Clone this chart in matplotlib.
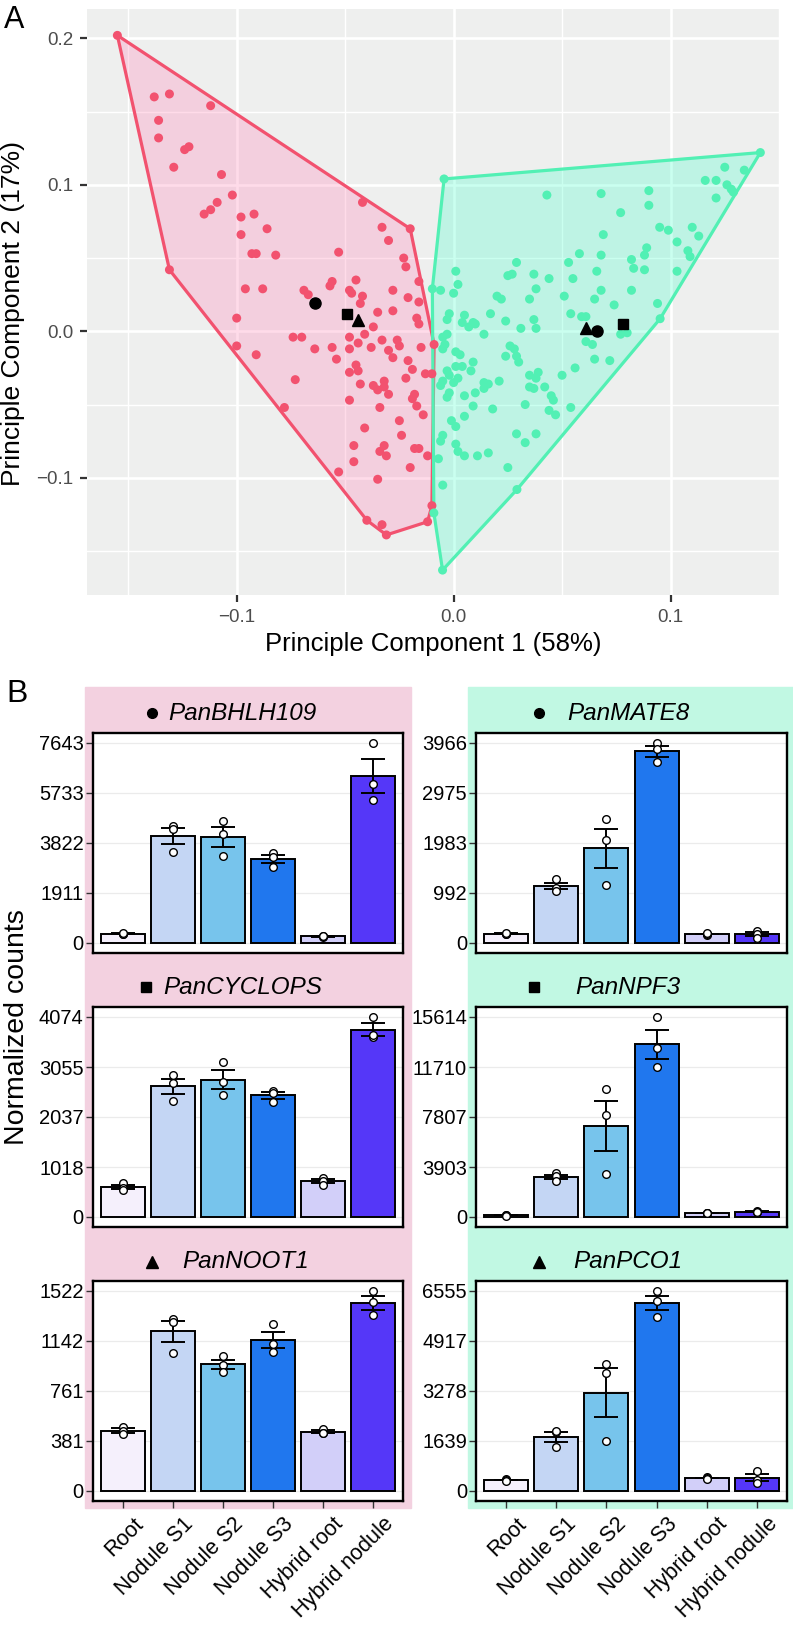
import numpy as np
import matplotlib
matplotlib.use("Agg")
import matplotlib.pyplot as plt
from matplotlib.patches import Rectangle, Polygon
from matplotlib.lines import Line2D
import matplotlib.transforms as mtransforms

plt.rcParams['font.family'] = ['Liberation Sans', 'DejaVu Sans']

# ---------------- panel A : PCA scores ----------------
red_pc1 = [-0.155, -0.138, -0.131, -0.136, -0.136, -0.112, -0.124, -0.122, -0.129, -0.107,
           -0.102, -0.109, -0.112, -0.115, -0.098, -0.092, -0.086, -0.098, -0.093, -0.091,
           -0.082, -0.042, -0.033, -0.030, -0.020, -0.053, -0.023, -0.022, -0.016, -0.131,
           -0.096, -0.088, -0.069, -0.067, -0.057, -0.056, -0.048, -0.047, -0.045, -0.028,
           -0.021, -0.016, -0.028, -0.035, -0.042, -0.043, -0.017, -0.016, -0.037, -0.100,
           -0.074, -0.070, -0.048, -0.041, -0.044, -0.033, -0.026, -0.025, -0.009, -0.015,
           -0.100, -0.064, -0.056, -0.054, -0.048, -0.038, -0.030, -0.028, -0.091, -0.045,
           -0.044, -0.048, -0.021, -0.019, -0.013, -0.010, -0.022, -0.073, -0.043, -0.037,
           -0.035, -0.032, -0.032, -0.030, -0.048, -0.018, -0.019, -0.017, -0.078, -0.034,
           -0.014, -0.025, -0.041, -0.024, -0.046, -0.032, -0.034, -0.031, -0.018, -0.016,
           -0.012, -0.046, -0.020, -0.053, -0.035, -0.040, -0.033, -0.031, -0.012, -0.010]
red_pc2 = [0.202, 0.160, 0.162, 0.144, 0.132, 0.154, 0.124, 0.126, 0.112, 0.107,
           0.093, 0.088, 0.083, 0.080, 0.078, 0.080, 0.070, 0.066, 0.053, 0.053,
           0.052, 0.088, 0.071, 0.062, 0.070, 0.054, 0.050, 0.044, 0.034, 0.042,
           0.029, 0.029, 0.028, 0.025, 0.031, 0.034, 0.028, 0.026, 0.035, 0.028,
           0.023, 0.020, 0.014, 0.013, 0.024, 0.019, 0.009, 0.005, 0.003, 0.009,
           -0.004, -0.004, -0.004, -0.002, -0.008, -0.006, -0.006, -0.010, -0.009, -0.011,
           -0.010, -0.012, -0.011, -0.019, -0.012, -0.011, -0.013, -0.018, -0.016, -0.023,
           -0.027, -0.028, -0.020, -0.026, -0.029, -0.029, -0.032, -0.033, -0.036, -0.037,
           -0.040, -0.034, -0.038, -0.043, -0.047, -0.043, -0.046, -0.051, -0.052, -0.052,
           -0.057, -0.061, -0.066, -0.071, -0.078, -0.078, -0.082, -0.085, -0.080, -0.080,
           -0.085, -0.089, -0.093, -0.096, -0.101, -0.129, -0.132, -0.139, -0.130, -0.119]

green_pc1 = [-0.0044, 0.1414, 0.0952, 0.0292, -0.0051, -0.0091, -0.0098, 0.043, 0.068, 0.077,
             0.069, 0.090, 0.090, 0.116, 0.121, 0.125, 0.134, 0.126, 0.128, 0.129,
             0.121, 0.095, 0.099, 0.110, 0.113, 0.103, 0.108, 0.109, 0.103, 0.089,
             0.088, 0.082, 0.083, 0.088, 0.068, 0.058, 0.053, 0.066, 0.055, 0.051,
             0.044, 0.037, 0.038, 0.035, 0.029, 0.025, 0.027, 0.068, 0.065, 0.074,
             0.082, 0.094, 0.054, 0.059, 0.061, 0.061, 0.064, 0.065, 0.072, 0.077,
             0.080, 0.056, 0.050, 0.045, 0.046, 0.054, 0.044, 0.047, 0.039, 0.038,
             0.035, 0.035, 0.037, 0.042, 0.033, 0.038, 0.033, 0.029, 0.025, 0.038,
             0.031, 0.037, 0.017, 0.022, 0.020, 0.024, 0.026, 0.028, 0.024, 0.029,
             0.030, 0.014, 0.016, 0.014, 0.021, 0.010, 0.005, 0.009, 0.018, 0.005,
             -0.001, 0.001, 0.001, 0.002, 0.005, 0.011, 0.016, -0.005, -0.006, -0.007,
             -0.005, -0.002, -0.003, 0.002, 0.004, -0.003, -0.002, -0.005, -0.006, 0.000,
             -0.004, -0.005, 0.001, 0.003, 0.001, 0.009, 0.008, -0.003, -0.005, 0.005,
             0.004, 0.007, 0.009, 0.010, 0.014, -0.002, -0.003, 0.000, 0.002, 0.001, -0.006]
green_pc2 = [0.104, 0.122, 0.0086, -0.108, -0.163, -0.124, 0.029, 0.093, 0.094, 0.081,
             0.066, 0.096, 0.086, 0.103, 0.103, 0.112, 0.110, 0.100, 0.097, 0.095,
             0.091, 0.071, 0.069, 0.071, 0.065, 0.061, 0.055, 0.051, 0.041, 0.057,
             0.052, 0.049, 0.043, 0.042, 0.052, 0.053, 0.047, 0.041, 0.036, 0.024,
             0.036, 0.039, 0.029, 0.022, 0.047, 0.038, 0.039, 0.028, 0.022, 0.018,
             0.028, 0.019, 0.012, 0.010, 0.010, -0.007, -0.009, -0.019, -0.020, -0.002,
             -0.001, -0.025, -0.030, -0.044, -0.047, -0.052, -0.054, -0.057, -0.028, -0.032,
             -0.030, -0.038, -0.039, -0.038, -0.050, -0.070, -0.076, -0.070, -0.093, 0.002,
             0.002, 0.008, 0.012, 0.022, 0.024, 0.007, -0.010, -0.012, -0.017, -0.017,
             -0.021, -0.035, -0.036, -0.039, -0.034, -0.042, -0.044, -0.051, -0.053, -0.058,
             -0.061, -0.065, -0.077, -0.082, -0.085, -0.085, -0.083, -0.071, -0.075, -0.087,
             -0.105, -0.042, -0.045, -0.032, -0.024, -0.027, -0.030, -0.034, -0.037, -0.035,
             -0.009, -0.012, -0.014, -0.016, -0.024, -0.021, -0.027, -0.002, -0.004, 0.011,
             0.006, 0.003, 0.006, 0.005, -0.002, 0.012, 0.008, 0.026, 0.032, 0.041, 0.028]

# highlighted genes (black symbols) in each cluster
hl_markers = ['o', 's', '^', 'o', 's', '^']
hl_pc1 = [-0.064, -0.049, -0.044, 0.066, 0.078, 0.061]
hl_pc2 = [0.019, 0.012, 0.008, 0.000, 0.005, 0.002]

# ---------------- panel B : normalized counts ----------------
categories = ['Root', 'Nodule S1', 'Nodule S2', 'Nodule S3', 'Hybrid root', 'Hybrid nodule']
bar_colors = ['#F5F0FC', '#C4D6F4', '#77C4EC', '#2077EE', '#D2CFF9', '#5537F8']

genes = ['PanBHLH109', 'PanCYCLOPS', 'PanNOOT1', 'PanMATE8', 'PanNPF3', 'PanPCO1']
gene_markers = ['o', 's', '^', 'o', 's', '^']

reps_bhlh109 = [[330, 356, 382], [4470, 4350, 3464], [4648, 4151, 3337],
                [3450, 3300, 2900], [240, 255, 270], [7643, 6062, 5463]]
reps_cyclops = [[699, 585, 550], [2892, 2736, 2363], [3157, 2750, 2485],
                [2573, 2519, 2349], [790, 740, 650], [4074, 3660, 3700]]
reps_noot1 = [[489, 457, 431], [1309, 1283, 1053], [1027, 957, 908],
              [1271, 1119, 1058], [470, 445, 439], [1522, 1436, 1339]]
reps_mate8 = [[170, 185, 200], [1263, 1090, 1037], [2453, 2042, 1144],
              [3966, 3847, 3595], [165, 178, 191], [238, 175, 105]]
reps_npf3 = [[156, 120, 115], [3409, 3200, 2836], [9970, 7963, 3333],
             [15614, 13170, 11687], [338, 300, 298], [468, 400, 380]]
reps_pco1 = [[380, 361, 342], [1923, 1967, 1453], [4163, 3879, 1639],
             [6555, 6217, 5714], [445, 426, 407], [666, 372, 273]]
gene_reps = [reps_bhlh109, reps_cyclops, reps_noot1, reps_mate8, reps_npf3, reps_pco1]

yticks_bhlh109 = ['0', '1911', '3822', '5733', '7643']
yticks_cyclops = ['0', '1018', '2037', '3055', '4074']
yticks_noot1 = ['0', '381', '761', '1142', '1522']
yticks_mate8 = ['0', '992', '1983', '2975', '3966']
yticks_npf3 = ['0', '3903', '7807', '11710', '15614']
yticks_pco1 = ['0', '1639', '3278', '4917', '6555']
gene_yticks = [yticks_bhlh109, yticks_cyclops, yticks_noot1, yticks_mate8, yticks_npf3, yticks_pco1]


def convex_hull(xs, ys):
    pts = sorted(set(zip(xs, ys)))

    def cross(o, a, b):
        return (a[0] - o[0]) * (b[1] - o[1]) - (a[1] - o[1]) * (b[0] - o[0])

    lower = []
    for p in pts:
        while len(lower) >= 2 and cross(lower[-2], lower[-1], p) <= 0:
            lower.pop()
        lower.append(p)
    upper = []
    for p in reversed(pts):
        while len(upper) >= 2 and cross(upper[-2], upper[-1], p) <= 0:
            upper.pop()
        upper.append(p)
    return lower[:-1] + upper[:-1]


W, H = 793, 1629
fig = plt.figure(figsize=(W / 100, H / 100), dpi=100)


def fbox(x0, y0, x1, y1):
    # pixel box (top-left origin) -> figure fraction
    return [x0 / W, 1 - y1 / H, (x1 - x0) / W, (y1 - y0) / H]


# ---------- A ----------
ax = fig.add_axes(fbox(87, 9, 779, 595))
ax.set_facecolor('#EEEFEE')
for s in ax.spines.values():
    s.set_visible(False)
ax.set_xlim(-0.169, 0.150)
ax.set_ylim(-0.180, 0.220)
ax.set_xticks([-0.1, 0.0, 0.1])
ax.set_xticklabels(['\u22120.1', '0.0', '0.1'])
ax.set_yticks([-0.1, 0.0, 0.1, 0.2])
ax.set_yticklabels(['\u22120.1', '0.0', '0.1', '0.2'])
ax.set_xticks([-0.15, -0.05, 0.05, 0.15], minor=True)
ax.set_yticks([-0.15, -0.05, 0.05, 0.15], minor=True)
ax.grid(which='major', color='white', lw=1.9)
ax.grid(which='minor', color='white', lw=1.0)
ax.set_axisbelow(True)
ax.tick_params(which='major', length=5, width=1.6, color='#333333',
               labelsize=13.5, labelcolor='#4D4D4D', pad=5)
ax.tick_params(which='minor', length=0)

groups = [(red_pc1, red_pc2, '#F2526F', '#FF88B9'),
          (green_pc1, green_pc2, '#52F0B4', '#51FFCD')]
for xs, ys, lc, fc in groups:
    h = convex_hull(xs, ys)
    ax.add_patch(Polygon(h, closed=True, facecolor=fc, alpha=0.3, edgecolor='none', zorder=1))
    ax.add_patch(Polygon(h, closed=True, fill=False, edgecolor=lc, lw=2.3, zorder=2))
    ax.scatter(xs, ys, s=42, color=lc, edgecolors='none', zorder=3)
for m, x, y in zip(hl_markers, hl_pc1, hl_pc2):
    ax.plot(x, y, marker=m, color='black', ms=8 if m != 's' else 7.5, ls='none', zorder=4)

fig.text(433 / W, 1 - 644 / H, 'Principle Component 1 (58%)', fontsize=18.5,
         ha='center', va='center')
fig.text(13 / W, 1 - 314 / H, 'Principle Component 2 (17%)', rotation=90,
         fontsize=19, ha='center', va='center')
fig.text(14 / W, 1 - 20 / H, 'A', fontsize=22, ha='center', va='center')
fig.text(17 / W, 1 - 694 / H, 'B', fontsize=23, ha='center', va='center')

# ---------- B ----------
fig.add_artist(Rectangle((85 / W, 1 - 1508 / H), (411 - 85) / W, (1508 - 687) / H,
                         transform=fig.transFigure, color='#F3D1E0', zorder=-5))
fig.add_artist(Rectangle((468 / W, 1 - 1508 / H), (793 - 468) / W, (1508 - 687) / H,
                         transform=fig.transFigure, color='#C1F8E3', zorder=-5))

col_x = [(92.7, 403), (476, 787)]
row_y = [(733, 953), (1007, 1227), (1281, 1501)]
title_y = [713, 987, 1262]
marker_x = [[152, 146, 152], [539, 534, 539]]
name_x = [[168, 163, 182], [567, 575, 573]]

xpos = np.arange(len(categories))
for g in range(6):
    col, row = g // 3, g % 3
    x0, x1 = col_x[col]
    y0, y1 = row_y[row]
    bx = fig.add_axes(fbox(x0, y0, x1, y1))
    reps = np.array(gene_reps[g], dtype=float)
    means = reps.mean(axis=1)
    se = reps.std(axis=1, ddof=1) / np.sqrt(reps.shape[1])
    labels = gene_yticks[g]
    ticks = [float(t) for t in labels]
    top = ticks[-1]

    bx.bar(xpos, means, width=0.88, color=bar_colors, edgecolor='black', linewidth=1.4, zorder=2)
    bx.errorbar(xpos, means, yerr=se, fmt='none', ecolor='black', elinewidth=1.4,
                capsize=8.5, capthick=1.4, zorder=3)
    for i in range(len(categories)):
        bx.plot([xpos[i]] * reps.shape[1], reps[i], 'o', mfc='white', mec='black',
                mew=1.0, ms=5.5, zorder=4)

    bx.set_xlim(-0.6, 5.6)
    bx.set_ylim(-0.05 * top, 1.05 * top)
    bx.set_yticks(ticks)
    bx.set_yticklabels(labels)
    bx.yaxis.grid(True, color='#EBEBEB', lw=0.9)
    bx.set_axisbelow(True)
    for s in bx.spines.values():
        s.set_linewidth(1.7)
        s.set_color('black')
    bx.tick_params(axis='y', length=5, width=1.0, color='#333333', labelsize=14.5,
                   labelcolor='black', pad=1.5)
    bx.set_xticks(xpos)
    if row == 2:
        bx.tick_params(axis='x', length=5, width=1.0, color='#333333', pad=4)
        bx.set_xticklabels(categories, rotation=45, ha='right', va='top',
                           rotation_mode='anchor', fontsize=15.5)
        off = mtransforms.ScaledTranslation(7 / 72, 0, fig.dpi_scale_trans)
        for lab in bx.get_xticklabels():
            lab.set_transform(lab.get_transform() + off)
    else:
        bx.set_xticklabels([])
        bx.tick_params(axis='x', length=0)

    ty = 1 - title_y[row] / H
    mk = gene_markers[g]
    fig.add_artist(Line2D([marker_x[col][row] / W], [ty], marker=mk, color='black',
                          ms=7 if mk == 'o' else (6.5 if mk == 's' else 8),
                          ls='none', transform=fig.transFigure))
    fig.text(name_x[col][row] / W, ty, genes[g], fontsize=17.5, style='italic',
             ha='left', va='center')

fig.text(17 / W, 1 - 1027 / H, 'Normalized counts', rotation=90, fontsize=20.5,
         ha='center', va='center')

fig.savefig('out.png', dpi=100)
